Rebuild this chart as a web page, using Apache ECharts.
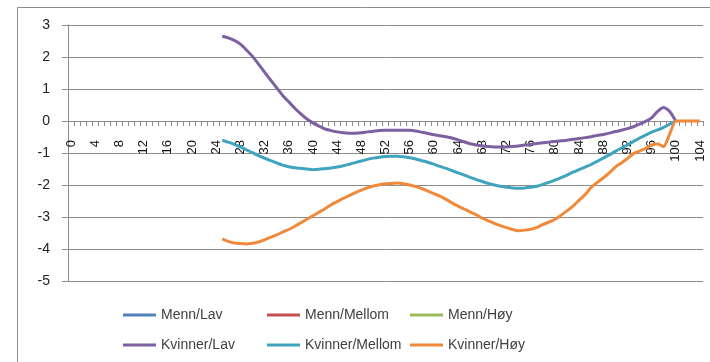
<!DOCTYPE html>
<html>
<head>
<meta charset="utf-8">
<title>Kvinner og menn etter utdanning</title>
<script src="https://cdn.jsdelivr.net/npm/echarts@6/dist/echarts.min.js"></script>
<style>
  html, body { margin: 0; padding: 0; background: #fff; }
  #chart { width: 710px; height: 362px; }
</style>
</head>
<body>
<div id="chart"></div>
<script>
// Alder 0–104 på kategoriaksen
const ages = Array.from({ length: 105 }, (_, i) => String(i));

// Verdiakse
const yMin = -5;
const yMax = 3;
const yStep = 1;

// Serienavn
const names = ['Menn/Lav', 'Menn/Mellom', 'Menn/Høy', 'Kvinner/Lav', 'Kvinner/Mellom', 'Kvinner/Høy'];

// Menn-seriene har ingen verdier i figuren
const mennLav = [];
const mennMellom = [];
const mennHoy = [];

// Kvinner-seriene starter ved alder 25
const kvinnerStart = 25;

// Kvinner/Lav, alder 25–100
const kvinnerLav = [
  2.65, 2.60, 2.52, 2.40, 2.22, 2.02, 1.78, 1.53, 1.28, 1.04,
  0.80, 0.60, 0.40, 0.22, 0.06, -0.06, -0.16, -0.25, -0.30, -0.34,
  -0.37, -0.38, -0.38, -0.37, -0.34, -0.32, -0.30, -0.29, -0.29, -0.29,
  -0.29, -0.29, -0.31, -0.35, -0.39, -0.43, -0.46, -0.49, -0.53, -0.59,
  -0.65, -0.71, -0.75, -0.78, -0.80, -0.81, -0.81, -0.81, -0.80, -0.78,
  -0.75, -0.73, -0.70, -0.68, -0.66, -0.64, -0.62, -0.60, -0.57, -0.55,
  -0.52, -0.49, -0.45, -0.42, -0.38, -0.33, -0.29, -0.24, -0.18, -0.10,
  -0.01, 0.10, 0.30, 0.42, 0.30, 0.00
];

// Kvinner/Mellom, alder 25–100
const kvinnerMellom = [
  -0.60, -0.66, -0.73, -0.81, -0.90, -0.99, -1.08, -1.16, -1.24, -1.31,
  -1.38, -1.43, -1.46, -1.48, -1.50, -1.52, -1.51, -1.49, -1.47, -1.44,
  -1.40, -1.35, -1.30, -1.25, -1.20, -1.16, -1.13, -1.11, -1.10, -1.10,
  -1.12, -1.15, -1.19, -1.24, -1.29, -1.35, -1.42, -1.48, -1.55, -1.62,
  -1.69, -1.76, -1.83, -1.89, -1.95, -2.00, -2.04, -2.07, -2.09, -2.10,
  -2.09, -2.07, -2.04, -1.98, -1.92, -1.85, -1.77, -1.69, -1.60, -1.52,
  -1.44, -1.36, -1.26, -1.16, -1.06, -0.95, -0.85, -0.75, -0.64, -0.53,
  -0.44, -0.35, -0.28, -0.20, -0.10, 0.00
];

// Kvinner/Høy, alder 25–104
const kvinnerHoy = [
  -3.68, -3.76, -3.81, -3.83, -3.84, -3.82, -3.78, -3.71, -3.64, -3.56,
  -3.47, -3.39, -3.29, -3.18, -3.07, -2.96, -2.85, -2.74, -2.62, -2.52,
  -2.42, -2.33, -2.24, -2.16, -2.09, -2.03, -1.99, -1.96, -1.95, -1.94,
  -1.96, -2.00, -2.05, -2.11, -2.19, -2.27, -2.35, -2.45, -2.56, -2.66,
  -2.75, -2.84, -2.93, -3.04, -3.12, -3.20, -3.27, -3.33, -3.39, -3.43,
  -3.41, -3.38, -3.33, -3.24, -3.16, -3.08, -2.95, -2.81, -2.66, -2.48,
  -2.30, -2.08, -1.92, -1.78, -1.62, -1.44, -1.31, -1.17, -1.02, -0.94,
  -0.86, -0.75, -0.72, -0.80, -0.40, 0.00, 0.00, 0.00, 0.00, 0.00
];

const colors = ['#4F81BD', '#C0504D', '#9BBB59', '#7D60A0', '#40A4BE', '#F08A3A'];

// Plasserer en serie på kategoriaksen fra gitt startalder
function place(values, start) {
  return ages.map((_, i) => {
    const k = i - start;
    return k >= 0 && k < values.length ? values[k] : null;
  });
}

const seriesData = [
  mennLav, mennMellom, mennHoy,
  place(kvinnerLav, kvinnerStart),
  place(kvinnerMellom, kvinnerStart),
  place(kvinnerHoy, kvinnerStart)
];

const W = 710, H = 362;
const gridBox = { left: 68, right: 7, top: 25, bottom: 81 };
const plotH = H - gridBox.top - gridBox.bottom;
// Kategoriaksen krysser verdiaksen i 0; etikettene følger aksen
const zeroShift = -plotH * (0 - yMin) / (yMax - yMin);

const chart = echarts.init(document.getElementById('chart'), null, { renderer: 'canvas' });

const legendLeft = [123, 267, 410];
const legendTop = [308, 338];
const legends = names.map((n, i) => ({
  data: [n],
  left: legendLeft[i % 3],
  top: legendTop[Math.floor(i / 3)],
  padding: 0,
  icon: 'rect',
  itemWidth: 33,
  itemHeight: 3,
  selectedMode: false,
  textStyle: { fontFamily: 'Liberation Sans', fontSize: 14, color: '#404040' }
}));

chart.setOption({
  animation: false,
  color: colors,
  grid: Object.assign({ containLabel: false }, gridBox),
  legend: legends,
  graphic: [{
    type: 'rect',
    shape: { x: 17.5, y: 7.5, width: 720, height: 400 },
    style: { fill: 'none', stroke: '#8c8c8c', lineWidth: 1 },
    silent: true
  }],
  xAxis: {
    type: 'category',
    data: ages,
    boundaryGap: true,
    position: 'bottom',
    offset: zeroShift,
    axisLine: { show: true, onZero: false, lineStyle: { color: '#8c8c8c', width: 1 } },
    axisTick: { show: true, interval: 0, length: 5, lineStyle: { color: '#8c8c8c' } },
    axisLabel: {
      interval: 3,
      rotate: 90,
      margin: 19,
      fontFamily: 'Liberation Sans',
      fontSize: 13,
      color: '#111'
    },
    splitLine: { show: false }
  },
  yAxis: {
    type: 'value',
    min: yMin,
    max: yMax,
    interval: yStep,
    axisLine: { show: true, lineStyle: { color: '#8c8c8c', width: 1 } },
    axisTick: { show: true, length: 6, lineStyle: { color: '#8c8c8c' } },
    axisLabel: {
      margin: 18,
      fontFamily: 'Liberation Sans',
      fontSize: 14,
      color: '#222'
    },
    splitLine: { show: true, lineStyle: { color: '#8c8c8c', width: 1 } }
  },
  series: names.map((n, i) => ({
    name: n,
    type: 'line',
    data: seriesData[i],
    symbol: 'none',
    connectNulls: false,
    smooth: 0.2,
    lineStyle: { width: 3, color: colors[i] },
    itemStyle: { color: colors[i] },
    z: 2 + i
  }))
});
</script>
</body>
</html>
